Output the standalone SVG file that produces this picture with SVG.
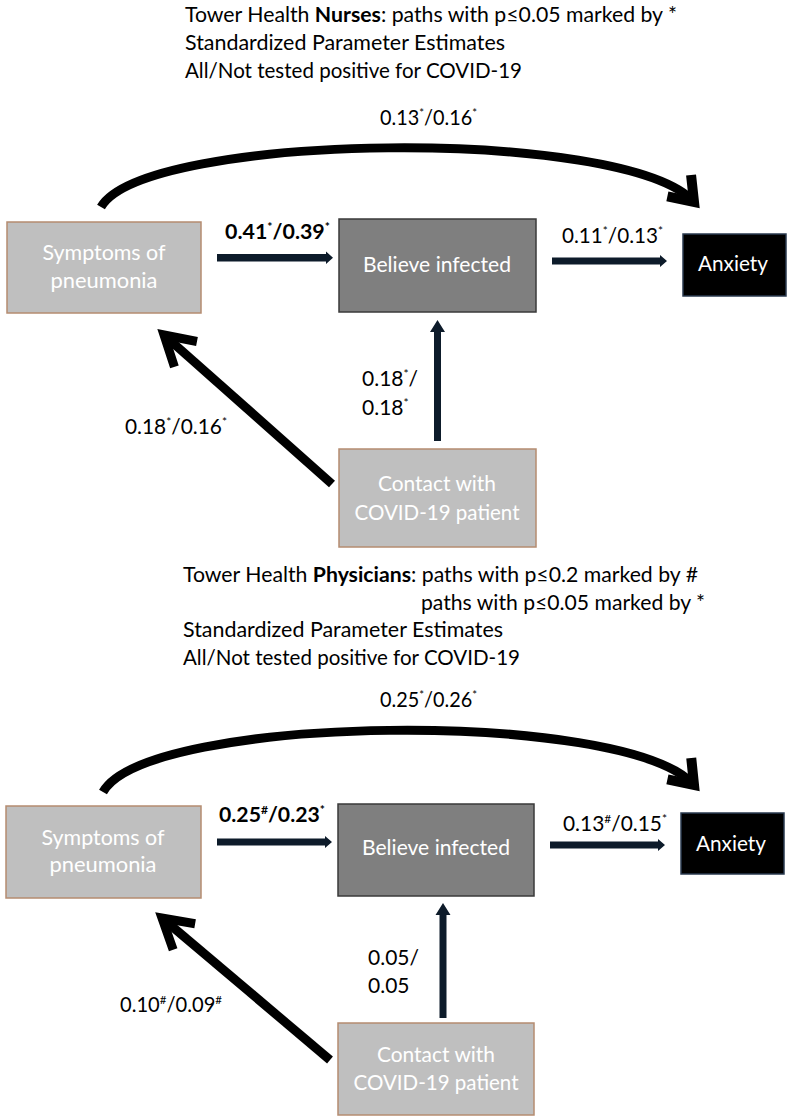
<svg xmlns="http://www.w3.org/2000/svg" width="791" height="1120" viewBox="0 0 791 1120">
<style>
text{font-family:Lato,"Liberation Sans",sans-serif;}
.t{font-size:21px;fill:#000;}
.lab{font-size:21px;fill:#000;}
.nt{font-size:22px;fill:#fff;text-anchor:middle;}
.sym{fill:#bfbfbf;stroke:#b58c70;stroke-width:1.5;}
.bel{fill:#7f7f7f;stroke:#3a3a3a;stroke-width:1.5;}
.anx{fill:#000;stroke:#2a3a4f;stroke-width:1.5;}
.curve{fill:none;stroke:#000;stroke-width:9;marker-end:url(#chev2);}
.nav{fill:#0d1b2a;}
</style>
<defs>
<marker id="chev" markerUnits="userSpaceOnUse" markerWidth="80" markerHeight="80" viewBox="-40 -40 80 80" refX="0" refY="0" orient="auto" overflow="visible">
<path d="M-29,-17 L0,0 L-29,17" fill="none" stroke="#000" stroke-width="9" stroke-linejoin="miter" stroke-miterlimit="10"/>
</marker>
<marker id="chev2" markerUnits="userSpaceOnUse" markerWidth="80" markerHeight="80" viewBox="-40 -40 80 80" refX="0" refY="0" orient="auto" overflow="visible">
<path d="M-22,-16 L0,0 L-22,16" fill="none" stroke="#000" stroke-width="10" stroke-linejoin="miter" stroke-miterlimit="10"/>
</marker>
</defs>

<!-- Top panel titles -->
<g id="title-top">
<text class="t" x="185" y="22" textLength="492" lengthAdjust="spacingAndGlyphs">Tower Health <tspan font-weight="bold">Nurses</tspan>: paths with p≤0.05 marked by *</text>
<text class="t" x="185" y="50" textLength="320" lengthAdjust="spacingAndGlyphs">Standardized Parameter Estimates</text>
<text class="t" x="185" y="78" textLength="337" lengthAdjust="spacingAndGlyphs">All/Not tested positive for COVID-19</text>
</g>

<!-- Top connectors -->
<g id="connectors-top">
<path class="curve" d="M101,207 C145,132 625,126 694,202"/>
<polygon class="nav" points="217,254 326,254 326,251.5 333,257.7 326,264 326,261.5 217,261.5"/>
<polygon class="nav" points="552,257.5 660,257.5 660,255 667,261 660,267 660,264.5 552,264.5"/>
<polygon class="nav" points="434,441 434,332 430,332 437.5,320 445,332 441,332 441,441"/>
<line x1="332" y1="484" x2="164" y2="335" stroke="#000" stroke-width="9" marker-end="url(#chev)"/>
<text class="lab" x="380" y="125" textLength="97" lengthAdjust="spacingAndGlyphs">0.13<tspan dy="-8" font-size="12">*</tspan><tspan dy="8">/0.16</tspan><tspan dy="-8" font-size="12">*</tspan></text>
<text class="lab" x="225" y="239" font-weight="bold" textLength="105" lengthAdjust="spacingAndGlyphs">0.41<tspan dy="-8" font-size="12">*</tspan><tspan dy="8">/0.39</tspan><tspan dy="-8" font-size="12">*</tspan></text>
<text class="lab" x="562" y="243" textLength="101" lengthAdjust="spacingAndGlyphs">0.11<tspan dy="-8" font-size="12">*</tspan><tspan dy="8">/0.13</tspan><tspan dy="-8" font-size="12">*</tspan></text>
<text class="lab" x="362" y="386">0.18<tspan dy="-8" font-size="12">*</tspan><tspan dy="8">/</tspan></text>
<text class="lab" x="362" y="415">0.18<tspan dy="-8" font-size="12">*</tspan></text>
<text class="lab" x="125" y="434" textLength="102" lengthAdjust="spacingAndGlyphs">0.18<tspan dy="-8" font-size="12">*</tspan><tspan dy="8">/0.16</tspan><tspan dy="-8" font-size="12">*</tspan></text>
</g>

<!-- Top nodes -->
<g id="symptoms-top">
<rect class="sym" x="7" y="222" width="194" height="91"/>
<text class="nt" x="104" y="260" textLength="123" lengthAdjust="spacingAndGlyphs">Symptoms of</text>
<text class="nt" x="104" y="288" textLength="107" lengthAdjust="spacingAndGlyphs">pneumonia</text>
</g>
<g id="believe-top">
<rect class="bel" x="339" y="219" width="197" height="93"/>
<text class="nt" x="437" y="272" textLength="148" lengthAdjust="spacingAndGlyphs">Believe infected</text>
</g>
<g id="anxiety-top">
<rect class="anx" x="683" y="234" width="103" height="62"/>
<text class="nt" x="733" y="271" textLength="70" lengthAdjust="spacingAndGlyphs">Anxiety</text>
</g>
<g id="contact-top">
<rect class="sym" x="339" y="449" width="197" height="98"/>
<text class="nt" x="437" y="491" textLength="118" lengthAdjust="spacingAndGlyphs">Contact with</text>
<text class="nt" x="437" y="520" textLength="165" lengthAdjust="spacingAndGlyphs">COVID-19 patient</text>
</g>

<!-- Bottom panel titles -->
<g id="title-bottom">
<text class="t" x="183" y="582" textLength="515" lengthAdjust="spacingAndGlyphs">Tower Health <tspan font-weight="bold">Physicians</tspan>: paths with p≤0.2 marked by #</text>
<text class="t" x="421" y="610" textLength="284" lengthAdjust="spacingAndGlyphs">paths with p≤0.05 marked by *</text>
<text class="t" x="183" y="637" textLength="320" lengthAdjust="spacingAndGlyphs">Standardized Parameter Estimates</text>
<text class="t" x="183" y="665" textLength="337" lengthAdjust="spacingAndGlyphs">All/Not tested positive for COVID-19</text>
</g>

<!-- Bottom connectors -->
<g id="connectors-bottom">
<path class="curve" d="M103,792 C147,714 625,708 694,785"/>
<polygon class="nav" points="217,838.5 325,838.5 325,836 332,842 325,848 325,845.5 217,845.5"/>
<polygon class="nav" points="550,841.5 658,841.5 658,839 665,845 658,851 658,848.5 550,848.5"/>
<polygon class="nav" points="439.5,1018 439.5,915 435.5,915 443,903 450.5,915 446.5,915 446.5,1018"/>
<line x1="330" y1="1060" x2="162" y2="918" stroke="#000" stroke-width="9" marker-end="url(#chev)"/>
<text class="lab" x="380" y="707" textLength="97" lengthAdjust="spacingAndGlyphs">0.25<tspan dy="-8" font-size="12">*</tspan><tspan dy="8">/0.26</tspan><tspan dy="-8" font-size="12">*</tspan></text>
<text class="lab" x="219" y="822" font-weight="bold" textLength="106" lengthAdjust="spacingAndGlyphs">0.25<tspan dy="-8" font-size="12">#</tspan><tspan dy="8">/0.23</tspan><tspan dy="-8" font-size="12">*</tspan></text>
<text class="lab" x="563" y="831" textLength="104" lengthAdjust="spacingAndGlyphs">0.13<tspan dy="-8" font-size="12">#</tspan><tspan dy="8">/0.15</tspan><tspan dy="-8" font-size="12">*</tspan></text>
<text class="lab" x="368" y="965">0.05/</text>
<text class="lab" x="368" y="993">0.05</text>
<text class="lab" x="120" y="1012" textLength="102" lengthAdjust="spacingAndGlyphs">0.10<tspan dy="-8" font-size="12">#</tspan><tspan dy="8">/0.09</tspan><tspan dy="-8" font-size="12">#</tspan></text>
</g>

<!-- Bottom nodes -->
<g id="symptoms-bottom">
<rect class="sym" x="6" y="806" width="195" height="92"/>
<text class="nt" x="103" y="845" textLength="123" lengthAdjust="spacingAndGlyphs">Symptoms of</text>
<text class="nt" x="103" y="872" textLength="107" lengthAdjust="spacingAndGlyphs">pneumonia</text>
</g>
<g id="believe-bottom">
<rect class="bel" x="338" y="804" width="196" height="92"/>
<text class="nt" x="436" y="855" textLength="148" lengthAdjust="spacingAndGlyphs">Believe infected</text>
</g>
<g id="anxiety-bottom">
<rect class="anx" x="681" y="813" width="103" height="61"/>
<text class="nt" x="731" y="851" textLength="70" lengthAdjust="spacingAndGlyphs">Anxiety</text>
</g>
<g id="contact-bottom">
<rect class="sym" x="338" y="1023" width="196" height="92"/>
<text class="nt" x="436" y="1062" textLength="118" lengthAdjust="spacingAndGlyphs">Contact with</text>
<text class="nt" x="436" y="1090" textLength="165" lengthAdjust="spacingAndGlyphs">COVID-19 patient</text>
</g>
</svg>
